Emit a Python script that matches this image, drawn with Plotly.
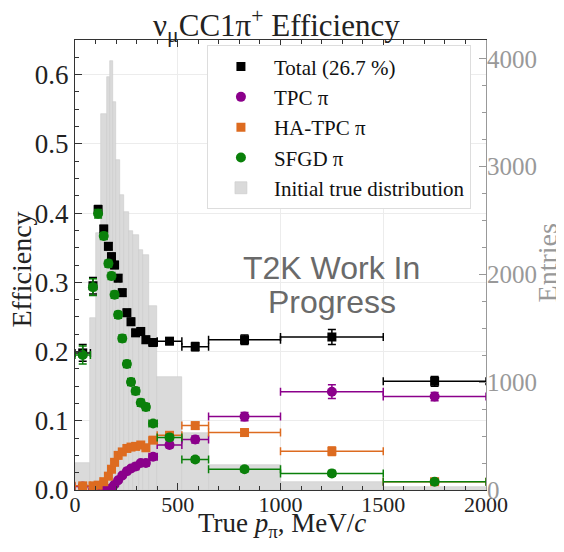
import numpy as np
import plotly.graph_objects as go

# ---- data ----
bin_edges = [0, 75, 100, 125, 155, 170, 185, 200, 220, 240, 265, 280, 310, 330, 360, 400, 520, 650, 1000, 1500, 2000]

eff_total = [0.198, 0.295, 0.405, 0.377, 0.352, 0.337, 0.325, 0.306, 0.285, 0.256, 0.243, 0.227, 0.229, 0.217, 0.213,
             0.215, 0.207, 0.217, 0.221, 0.157]
err_total = [0.012, 0.012, 0.006, 0.005, 0.005, 0.005, 0.005, 0.005, 0.005, 0.005, 0.005, 0.005, 0.005, 0.005, 0.005,
             0.005, 0.006, 0.007, 0.011, 0.007]

eff_tpc = [0.005, 0.0, 0.0, 0.0, 0.0, 0.003, 0.008, 0.014, 0.021, 0.027, 0.031, 0.034, 0.039, 0.039, 0.048,
           0.065, 0.073, 0.106, 0.142, 0.135]
err_tpc = [0.003, 0.0, 0.0, 0.0, 0.0, 0.002, 0.002, 0.002, 0.003, 0.003, 0.003, 0.003, 0.003, 0.003, 0.004,
           0.004, 0.005, 0.006, 0.010, 0.006]

eff_hatpc = [0.006, 0.006, 0.007, 0.012, 0.020, 0.030, 0.040, 0.050, 0.055, 0.060, 0.062, 0.063, 0.065, 0.061, 0.072,
             0.079, 0.093, 0.083, 0.056, 0.012]
err_hatpc = [0.003, 0.003, 0.002, 0.002, 0.002, 0.003, 0.003, 0.003, 0.003, 0.003, 0.003, 0.003, 0.003, 0.003, 0.004,
             0.004, 0.005, 0.005, 0.006, 0.004]

eff_sfgd = [0.195, 0.293, 0.399, 0.367, 0.327, 0.309, 0.282, 0.253, 0.219, 0.182, 0.156, 0.143, 0.126, 0.120, 0.096,
            0.076, 0.044, 0.030, 0.024, 0.012]
err_sfgd = [0.013, 0.012, 0.006, 0.005, 0.005, 0.005, 0.005, 0.005, 0.005, 0.005, 0.005, 0.005, 0.005, 0.005, 0.004,
            0.004, 0.004, 0.004, 0.004, 0.003]

true_entries = [253, 1600, 2385, 3490, 3833, 3984, 3600, 3063, 2738, 2583, 2400, 2370, 2230, 2180, 1710,
                1050, 526, 232, 77, 25]

x_ticks = [0, 500, 1000, 1500, 2000]
eff_ticks = [0.0, 0.1, 0.2, 0.3, 0.4, 0.5, 0.6]
entry_ticks = [0, 1000, 2000, 3000, 4000]

# ---- derived bin geometry ----
edges = np.array(bin_edges, dtype=float)
centers = 0.5 * (edges[1:] + edges[:-1])
widths = edges[1:] - edges[:-1]
half = widths / 2

SERIF = "Liberation Serif"
fig = go.Figure()

series = [
    ("Total (26.7 %)", eff_total, err_total, "#000000", "square"),
    ("TPC π", eff_tpc, err_tpc, "#8b008b", "circle"),
    ("HA-TPC π", eff_hatpc, err_hatpc, "#dd6b20", "square"),
    ("SFGD π", eff_sfgd, err_sfgd, "#0a800a", "circle"),
]
for i, (name, vals, errs, col, sym) in enumerate(series):
    fig.add_trace(go.Scatter(
        x=centers, y=vals, mode="markers", name=name, yaxis="y2",
        legendgroup=f"g{i}",
        marker=dict(symbol=sym, size=10 if sym == "circle" else 9, color=col),
        error_x=dict(type="data", array=half, color=col, thickness=1.5, width=4),
        error_y=dict(type="data", array=errs, color=col, thickness=1.5, width=4),
    ))

fig.add_trace(go.Bar(
    x=centers, y=true_entries, width=widths, name="Initial true distribution",
    legendgroup="g9", yaxis="y",
    marker=dict(color="#dadada", line=dict(color="#cbcbcb", width=0.6)),
))

# watermark
for txt, yy in [("T2K Work In", 0.493), ("Progress", 0.418)]:
    fig.add_annotation(text=txt, xref="paper", yref="paper", x=0.625, y=yy,
                       xanchor="center", yanchor="middle", showarrow=False,
                       font=dict(family="Liberation Sans", size=32, color="#6a6a6a"))

# axis titles
fig.add_annotation(text="True <i>p</i><sub>π</sub>, MeV/<i>c</i>", xref="paper", yref="paper",
                   x=0.503, y=-0.077, xanchor="center", yanchor="middle", showarrow=False,
                   font=dict(family=SERIF, size=27, color="#222"))
fig.add_annotation(text="Efficiency", xref="paper", yref="paper", x=-0.129, y=0.49, textangle=-90,
                   xanchor="center", yanchor="middle", showarrow=False,
                   font=dict(family=SERIF, size=28, color="#222"))
fig.add_annotation(text="Entries", xref="paper", yref="paper", x=1.150, y=0.505, textangle=-90,
                   xanchor="center", yanchor="middle", showarrow=False,
                   font=dict(family=SERIF, size=28, color="#999"))

fig.update_layout(
    width=564, height=552,
    margin=dict(l=67, r=86, t=32, b=70, autoexpand=False),
    paper_bgcolor="white", plot_bgcolor="white",
    font=dict(family=SERIF, size=20, color="#222"),
    bargap=0,
    title=dict(text="ν<sub>μ</sub>CC1π<sup>+</sup> Efficiency", x=0.49, xref="paper",
               y=1 - 17 / 552, yref="container", yanchor="middle",
               font=dict(family=SERIF, size=31, color="#222")),
    xaxis=dict(
        range=[0, 2000], tickvals=x_ticks, ticks="inside", ticklen=7, tickcolor="#333",
        showline=True, linecolor="#333", linewidth=1.2, mirror="ticks", automargin=False,
        minor=dict(ticks="inside", ticklen=4, dtick=100, tickcolor="#333", showgrid=False),
        showgrid=True, gridcolor="#ececec", gridwidth=1, zeroline=False,
        tickfont=dict(size=22), ticklabelstandoff=-6,
    ),
    yaxis=dict(
        range=[0, 4176], side="right", tickvals=entry_ticks, ticks="inside", ticklen=7,
        tickcolor="#999", showline=True, linecolor="#999", linewidth=1.2, automargin=False,
        minor=dict(ticks="inside", ticklen=4, dtick=250, tickcolor="#999", showgrid=False),
        showgrid=False, zeroline=False,
        tickfont=dict(size=25, color="#999"), ticklabelstandoff=-5,
    ),
    yaxis2=dict(
        range=[0, 0.65], overlaying="y", side="left", tickvals=eff_ticks, tickformat=".1f",
        ticks="inside", ticklen=7, tickcolor="#333", showline=True, linecolor="#333", linewidth=1.2,
        automargin=False,
        minor=dict(ticks="inside", ticklen=4, dtick=0.025, tickcolor="#333", showgrid=False),
        showgrid=True, gridcolor="#ececec", gridwidth=1, zeroline=False,
        tickfont=dict(size=27),
    ),
    legend=dict(
        x=0.321, y=0.988, xanchor="left", yanchor="top",
        bgcolor="white", bordercolor="#dddddd", borderwidth=1,
        font=dict(family=SERIF, size=21, color="#111"),
        tracegroupgap=1, itemwidth=56, traceorder="normal",
    ),
    showlegend=True,
)

fig.write_html("out.html")
